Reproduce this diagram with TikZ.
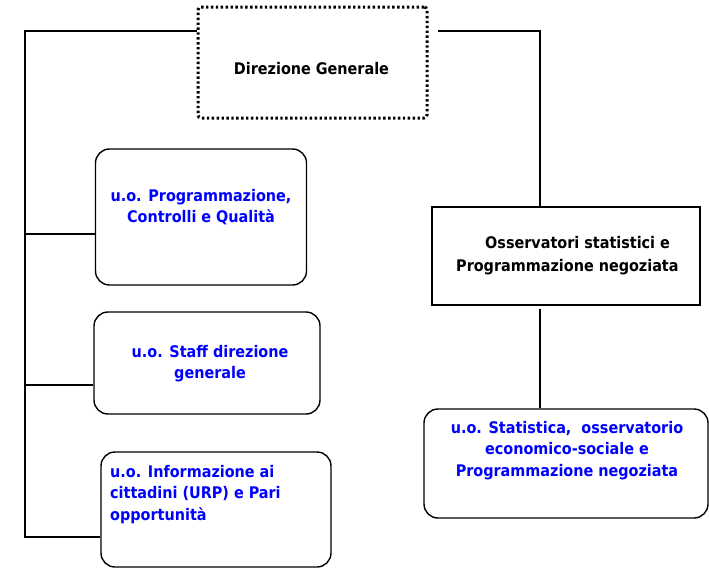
\documentclass[tikz,border=0pt]{standalone}
\usepackage{fontspec}
\setmainfont{DejaVu Sans Condensed}
\begin{document}
\begin{tikzpicture}[x=1pt,y=-1pt,
  unitbox/.style={draw=black, line width=1.4pt, rounded corners=14pt, inner sep=0pt},
  plainbox/.style={draw=black, line width=1.4pt, inner sep=0pt},
  dotbox/.style={draw=black, line width=3pt, dash pattern=on 2.4pt off 2.5pt, rounded corners=3pt, inner sep=0pt},
  wire/.style={line width=1.8pt},
  bluetxt/.style={text=blue, font=\bfseries\fontsize{16}{21}\selectfont, inner sep=0pt},
  blacktxt/.style={text=black, font=\bfseries\fontsize{16}{23}\selectfont, inner sep=0pt}]
\useasboundingbox (0,0) rectangle (709,568);

% boxes
\node[dotbox, minimum width=229pt, minimum height=111pt] (dg) at (312.5,62.5) {};
\node[unitbox, minimum width=211pt, minimum height=136pt] (p1) at (201,217) {};
\node[unitbox, minimum width=226pt, minimum height=102pt] (p2) at (207,363) {};
\node[unitbox, minimum width=230pt, minimum height=115pt] (p3) at (216,509.5) {};
\node[plainbox, minimum width=268pt, minimum height=98pt] (oss) at (566,256) {};
\node[unitbox, minimum width=284pt, minimum height=109pt] (stat) at (566,463.5) {};

% texts (base anchor sits on the last line)
\node[blacktxt, anchor=base] (tdg) at (311.5,74) {Direzione Generale};
\node[bluetxt, anchor=base, align=center] (tp1) at (201,222) {u.o. Programmazione,\\Controlli e Qualità};
\node[bluetxt, anchor=base, align=center] (tp2) at (210,378) {u.o. Staff direzione\\generale};
\node[bluetxt, anchor=base west, align=left, font=\bfseries\fontsize{16}{21.5}\selectfont] (tp3) at (110,520) {u.o. Informazione ai\\cittadini (URP) e Pari\\opportunità};
\node[blacktxt, anchor=base west, align=left] (toss) at (456,271) {\hspace*{29pt}Osservatori statistici e\\Programmazione negoziata};
\node[bluetxt, anchor=base, align=center, font=\bfseries\fontsize{16}{21.5}\selectfont] (tstat) at (567,476) {u.o. Statistica,\ \ osservatorio\\economico-sociale e\\Programmazione negoziata};

% connector points
\coordinate (ltop) at (25,31);
\coordinate (lbot) at (25,537);
\coordinate (rstart) at (438,31);
\coordinate (rtop) at (540,31);
\coordinate (osslow) at (540,309);

% left trunk with branches
\draw[wire] (ltop -| dg.west) -- (ltop) -- (lbot) -- (lbot -| p3.west);
\draw[wire] (25,234) -- (p1.west |- 0,234);
\draw[wire] (25,385) -- (p2.west |- 0,385);

% right branch
\draw[wire] (rstart) -- (rtop) -- (rtop |- oss.north);
\draw[wire] (osslow) -- (osslow |- stat.north);
\end{tikzpicture}
\end{document}
